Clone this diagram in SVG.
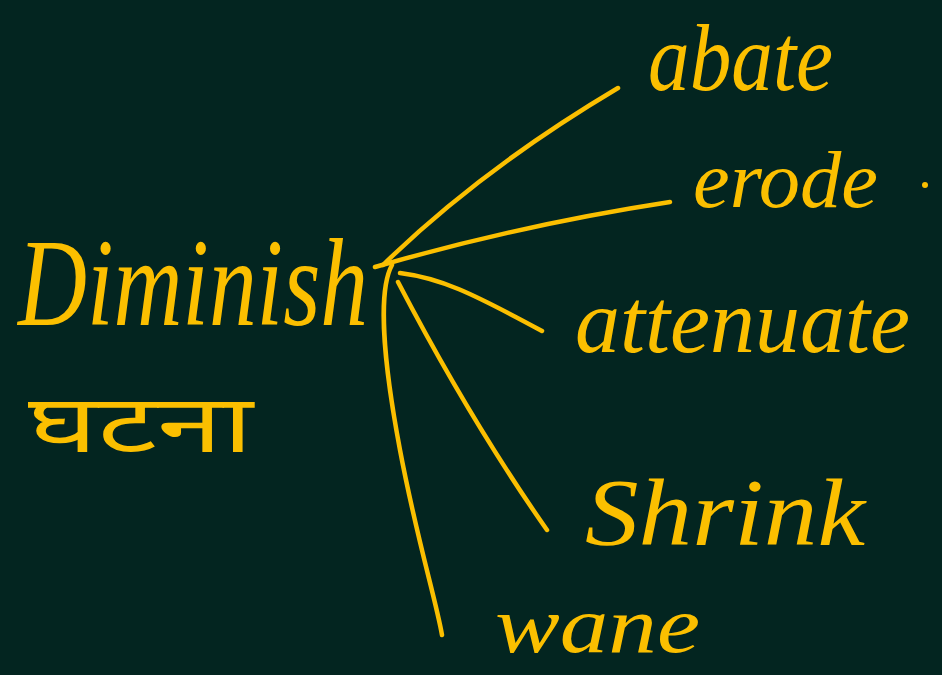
<svg xmlns="http://www.w3.org/2000/svg" width="942" height="675" viewBox="0 0 942 675">
<style>
.bg{fill:#032520}
.w{fill:#FBBF00;font-family:"Liberation Serif","DejaVu Serif",serif;font-style:italic}
.hi{fill:#FBBF00;font-family:"Noto Sans","Noto Sans Devanagari","Lohit Devanagari","Noto Sans CJK SC",sans-serif}
.c{fill:none;stroke:#FBBF00;stroke-width:4.5;stroke-linecap:round;stroke-linejoin:round}
</style>
<rect class="bg" width="942" height="675"/>
<g id="connectors">
<path class="c" d="M383,265 Q480,170 618,88"/>
<path class="c" d="M375,267 Q520,225 670,202"/>
<path class="c" d="M400,273 C440,278 470,292 542,331"/>
<path class="c" d="M398,282 Q470,420 547,530"/>
<path class="c" d="M392,265 C378,290 383,360 400,450 S436,600 442,635"/>
</g>
<g id="diminish"><text class="w" x="18" y="325" font-size="125" textLength="350" lengthAdjust="spacingAndGlyphs">Diminish</text></g>
<g id="ghatna"><text class="hi" x="28" y="452" font-size="80" textLength="225" lengthAdjust="spacingAndGlyphs">घटना</text></g>
<g id="abate"><text class="w" x="648" y="90" font-size="95" textLength="185" lengthAdjust="spacingAndGlyphs">abate</text></g>
<g id="erode"><text class="w" x="693" y="207" font-size="80" textLength="185" lengthAdjust="spacingAndGlyphs">erode</text><circle cx="925" cy="185" r="3" fill="#FBBF00"/></g>
<g id="attenuate"><text class="w" x="575" y="352" font-size="92" textLength="335" lengthAdjust="spacingAndGlyphs">attenuate</text></g>
<g id="shrink"><text class="w" x="585" y="545" font-size="95" textLength="280" lengthAdjust="spacingAndGlyphs">Shrink</text></g>
<g id="wane"><text class="w" x="495" y="652" font-size="80" textLength="205" lengthAdjust="spacingAndGlyphs">wane</text></g>
</svg>
